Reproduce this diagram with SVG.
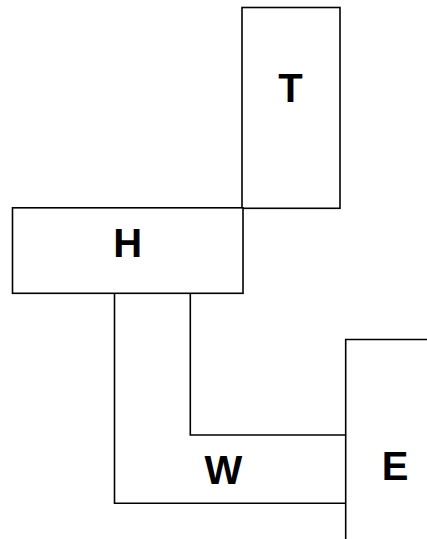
<svg xmlns="http://www.w3.org/2000/svg" width="427" height="539" viewBox="0 0 427 539">
<style>
.s{fill:none;stroke:#000;stroke-width:1.6}
.b{fill:#fff;stroke:#000;stroke-width:1.6}
.t{font-family:"Liberation Sans",Arial,sans-serif;font-weight:bold;font-size:40px;text-anchor:middle;fill:#000}
</style>
<rect width="427" height="539" fill="#fff"/>
<g id="T"><rect class="b" x="242" y="7.5" width="98" height="200.8"/><text class="t" x="290.5" y="101.7">T</text></g>
<g id="H"><rect class="b" x="12.5" y="207.8" width="230.5" height="85.5"/><text class="t" x="127.7" y="256.7">H</text></g>
<g id="W"><path class="s" d="M114.5,293.3 V503.3 H346 M190.3,293.3 V435 H346"/><text class="t" x="223.3" y="484.3">W</text></g>
<g id="E"><path class="s" d="M430,339.5 H345.7 V542"/><text class="t" x="395" y="480">E</text></g>
<g id="connectors"></g>
</svg>
